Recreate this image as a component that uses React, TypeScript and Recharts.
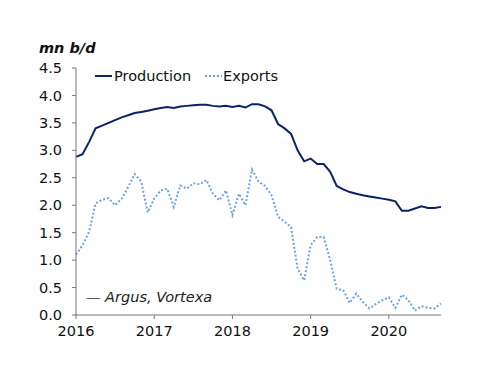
import React from 'react';
import { LineChart, Line, XAxis, YAxis } from 'recharts';

const yearLabels = ['2016', '2017', '2018', '2019', '2020'];
const yTicks = [0, 0.5, 1, 1.5, 2, 2.5, 3, 3.5, 4, 4.5];

// monthly, Jan 2016 .. Sep 2020 (mn b/d)
const production = [
  2.88, 2.93, 3.15, 3.4, 3.45, 3.5, 3.55, 3.6, 3.64, 3.68, 3.7, 3.72,
  3.75, 3.77, 3.79, 3.77, 3.8, 3.81, 3.82, 3.83, 3.83, 3.81, 3.8, 3.81,
  3.79, 3.81, 3.78, 3.84, 3.84, 3.8, 3.73, 3.48, 3.4, 3.3, 3.0, 2.8,
  2.85, 2.75, 2.75, 2.61, 2.35, 2.29, 2.24, 2.21, 2.18, 2.16, 2.14, 2.12,
  2.1, 2.07, 1.9, 1.9, 1.94, 1.98, 1.95, 1.95, 1.97,
];
const exports = [
  1.1, 1.27, 1.51, 2.03, 2.1, 2.13, 2.0, 2.12, 2.33, 2.57, 2.43, 1.87,
  2.12, 2.27, 2.3, 1.97, 2.36, 2.3, 2.4, 2.38, 2.46, 2.21, 2.09, 2.27,
  1.82, 2.21, 2.0, 2.65, 2.43, 2.35, 2.18, 1.79, 1.7, 1.6, 0.84, 0.63,
  1.27, 1.42, 1.42, 1.0, 0.48, 0.45, 0.22, 0.39, 0.24, 0.12, 0.2, 0.27,
  0.32, 0.13, 0.37, 0.27, 0.08, 0.16, 0.13, 0.12, 0.21,
];

const data = production.map((p, i) => ({ t: i, production: p, exports: exports[i] }));

const NAVY = '#0b2266';
const LIGHT = '#6fa3e6';
const FONT = '"DejaVu Sans", Verdana, sans-serif';

// legend drawn as an overlay so it does not eat into the plot area
const ChartLegend = () => (
  <svg width={200} height={20} style={{ position: 'absolute', left: 95, top: 66 }}>
    <line x1={0} y1={10} x2={17} y2={10} stroke={NAVY} strokeWidth={2} />
    <text x={19} y={15} fontSize={14.5} fill="#111" fontFamily={FONT}>Production</text>
    <line x1={110} y1={10} x2={127} y2={10} stroke={LIGHT} strokeWidth={2} strokeDasharray="2 2" />
    <text x={128} y={15} fontSize={14.5} fill="#111" fontFamily={FONT}>Exports</text>
  </svg>
);

export default function App() {
  return (
    <div style={{ position: 'absolute', left: 0, top: 0, width: 500, height: 386, background: '#fff', fontFamily: FONT }}>
      <div style={{ position: 'absolute', left: 39, top: 40, fontSize: 14.5, fontWeight: 'bold', fontStyle: 'italic', color: '#111' }}>
        mn b/d
      </div>
      <LineChart width={500} height={386} data={data} margin={{ top: 68, right: 59, bottom: 41, left: 16 }}>
        <XAxis
          dataKey="t"
          type="number"
          domain={[0, 56]}
          ticks={[0, 12, 24, 36, 48]}
          interval={0}
          tickFormatter={(v: number) => yearLabels[v / 12]}
          stroke="#777"
          tickSize={4}
          tickMargin={7}
          tick={{ fill: '#111', fontSize: 14.5, fontFamily: FONT }}
        />
        <YAxis
          type="number"
          domain={[0, 4.5]}
          ticks={yTicks}
          interval={0}
          tickFormatter={(v: number) => v.toFixed(1)}
          width={60}
          stroke="#777"
          tickSize={4}
          tickMargin={10}
          tick={{ fill: '#111', fontSize: 14.5, fontFamily: FONT }}
        />
        <Line
          dataKey="production"
          stroke={NAVY}
          strokeWidth={2}
          dot={false}
          type="linear"
          isAnimationActive={false}
        />
        <Line
          dataKey="exports"
          stroke={LIGHT}
          strokeWidth={2}
          strokeDasharray="2 2"
          dot={false}
          type="linear"
          isAnimationActive={false}
        />
      </LineChart>
      <ChartLegend />
      <div style={{ position: 'absolute', left: 86, top: 289, fontSize: 14.5, fontStyle: 'italic', color: '#222' }}>
        <span style={{ color: '#555' }}>—</span> Argus, Vortexa
      </div>
    </div>
  );
}
